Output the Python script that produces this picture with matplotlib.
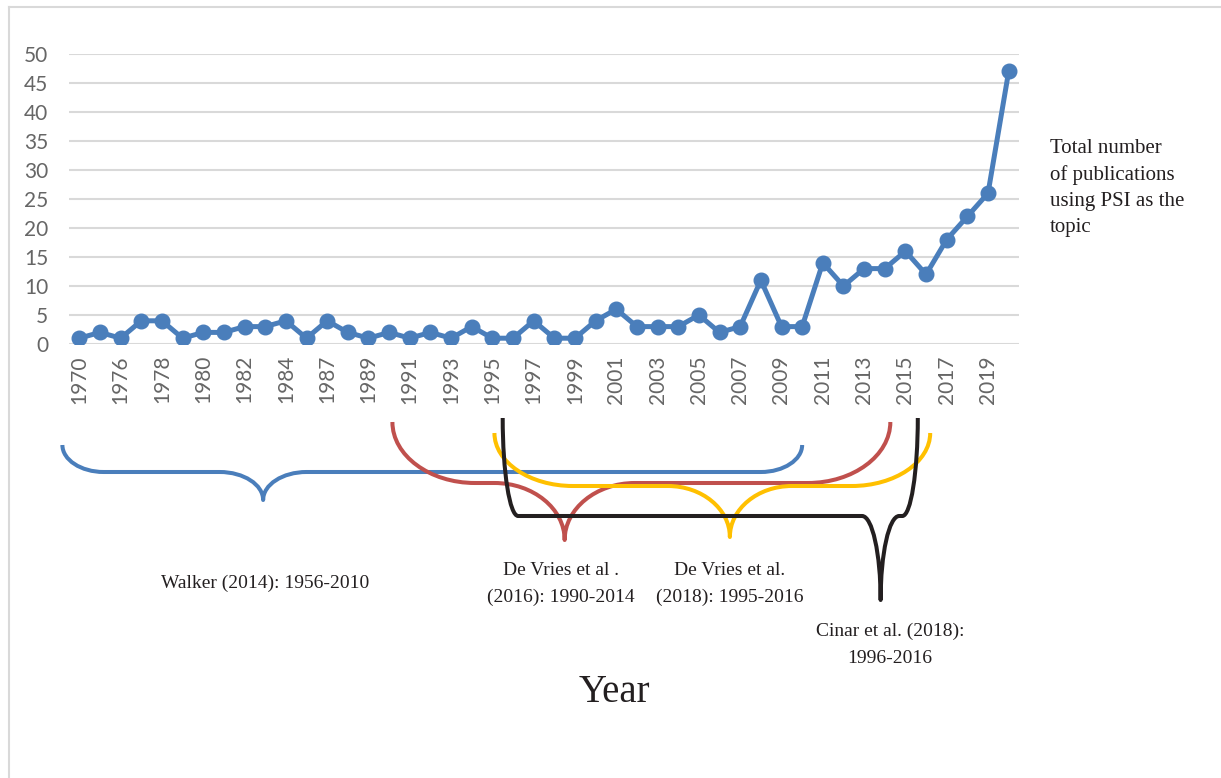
import numpy as np
import matplotlib
matplotlib.use("Agg")
import matplotlib.pyplot as plt
from matplotlib.path import Path
from matplotlib.patches import PathPatch
from matplotlib.lines import Line2D
import matplotlib.transforms as mtransforms

W, H = 1221, 778

years = ['1970', '1975', '1976', '1977', '1978', '1979', '1980', '1981', '1982', '1983',
         '1984', '1985', '1987', '1988', '1989', '1990', '1991', '1992', '1993', '1994',
         '1995', '1996', '1997', '1998', '1999', '2000', '2001', '2002', '2003', '2004',
         '2005', '2006', '2007', '2008', '2009', '2010', '2011', '2012', '2013', '2014',
         '2015', '2016', '2017', '2018', '2019', '2020']
counts = [1, 2, 1, 4, 4, 1, 2, 2, 3, 3,
          4, 1, 4, 2, 1, 2, 1, 2, 1, 3,
          1, 1, 4, 1, 1, 4, 6, 3, 3, 3,
          5, 2, 3, 11, 3, 3, 14, 10, 13, 13,
          16, 12, 18, 22, 26, 47]

# study labels and brace colours
studies = ['Walker (2014): 1956-2010',
           'De Vries et al .\n(2016): 1990-2014',
           'De Vries et al.\n(2018): 1995-2016',
           'Cinar et al. (2018):\n1996-2016']
brace_colors = ['#4a7ebb', '#c0504d', '#ffc000', '#231f20']

fig = plt.figure(figsize=(W / 100, H / 100), dpi=100)
ax = fig.add_axes([69 / W, 1 - 344 / H, 950 / W, 290 / H])

x = np.arange(len(years))
ax.plot(x, counts, color='#4a7ebb', lw=3.6, marker='o', ms=10.5,
        solid_capstyle='round', zorder=3)

ax.set_xlim(-0.5, len(years) - 0.5)
ax.set_ylim(0, 50)
ax.set_yticks(range(0, 51, 5))
ax.set_xticks(x[::2])
ax.set_xticklabels(years[::2], rotation=90)
ax.tick_params(length=0, labelsize=15, labelcolor='#666666')
ax.tick_params(axis='y', pad=15)
ax.tick_params(axis='x', pad=8)
for lab in ax.get_xticklabels() + ax.get_yticklabels():
    lab.set_family('Lato')
ax.grid(axis='y', color='#d9d9d9', lw=1.5)
ax.set_axisbelow(True)
for s in ax.spines.values():
    s.set_visible(False)

# y positions given in figure pixels (from top), x in category units
ypix = mtransforms.Affine2D().scale(1 / W, -1 / H).translate(0, 1) + fig.transFigure
trans = mtransforms.blended_transform_factory(ax.transData, ypix)


def brace(x0, x1, xt, y_end, y_bar, y_tip, r_end, r_tip, color):
    k = 0.55
    verts = [(x0, y_end),
             (x0, y_end + k * (y_bar - y_end)), (x0 + (1 - k) * r_end, y_bar), (x0 + r_end, y_bar),
             (xt - r_tip, y_bar),
             (xt - (1 - k) * r_tip, y_bar), (xt, y_tip - k * (y_tip - y_bar)), (xt, y_tip),
             (xt, y_tip - k * (y_tip - y_bar)), (xt + (1 - k) * r_tip, y_bar), (xt + r_tip, y_bar),
             (x1 - r_end, y_bar),
             (x1 - (1 - k) * r_end, y_bar), (x1, y_end + k * (y_bar - y_end)), (x1, y_end)]
    codes = [Path.MOVETO, Path.CURVE4, Path.CURVE4, Path.CURVE4, Path.LINETO,
             Path.CURVE4, Path.CURVE4, Path.CURVE4, Path.CURVE4, Path.CURVE4, Path.CURVE4,
             Path.LINETO, Path.CURVE4, Path.CURVE4, Path.CURVE4]
    p = PathPatch(Path(verts, codes), transform=trans, fill=False, edgecolor=color,
                  lw=2.9, clip_on=False, capstyle='butt', joinstyle='round')
    fig.patches.append(p)


# x0, x1, tip, y_end, y_bar, y_tip, r_end, r_tip
brace(-0.82, 35.0, 8.9, 445, 472, 500, 2.0, 2.1, brace_colors[0])
brace(15.16, 39.27, 23.5, 422, 483, 540, 4.0, 3.4, brace_colors[1])
brace(20.1, 41.2, 31.5, 433, 486, 537, 3.8, 3.0, brace_colors[2])
brace(20.5, 40.6, 38.8, 418, 516, 600, 0.75, 0.9, brace_colors[3])

serif = 'Liberation Serif'
fig.text(265 / W, 1 - 583 / H, studies[0], ha='center', va='center',
         family=serif, fontsize=14, color='#231f20')
for t, (cx, cy) in zip(studies[1:], [(561, 584), (730, 584), (890, 645)]):
    fig.text(cx / W, 1 - cy / H, t, ha='center', va='center', family=serif,
             fontsize=14, color='#231f20', linespacing=1.78)
fig.text(1050 / W, 1 - 139 / H,
         'Total number\nof publications\nusing PSI as the\ntopic',
         ha='left', va='top', family=serif, fontsize=15, color='#231f20',
         linespacing=1.5)
fig.text(614 / W, 1 - 693 / H, 'Year', ha='center', va='center',
         family=serif, fontsize=28, color='#231f20')

# light frame on the left and top
fig.lines.append(Line2D([8.5 / W, 8.5 / W], [0, 1 - 6.5 / H], transform=fig.transFigure,
                        color='#d9d9d9', lw=1.5))
fig.lines.append(Line2D([8.5 / W, 1], [1 - 6.5 / H, 1 - 6.5 / H], transform=fig.transFigure,
                        color='#d9d9d9', lw=1.5))

fig.savefig('out.png', dpi=100)
